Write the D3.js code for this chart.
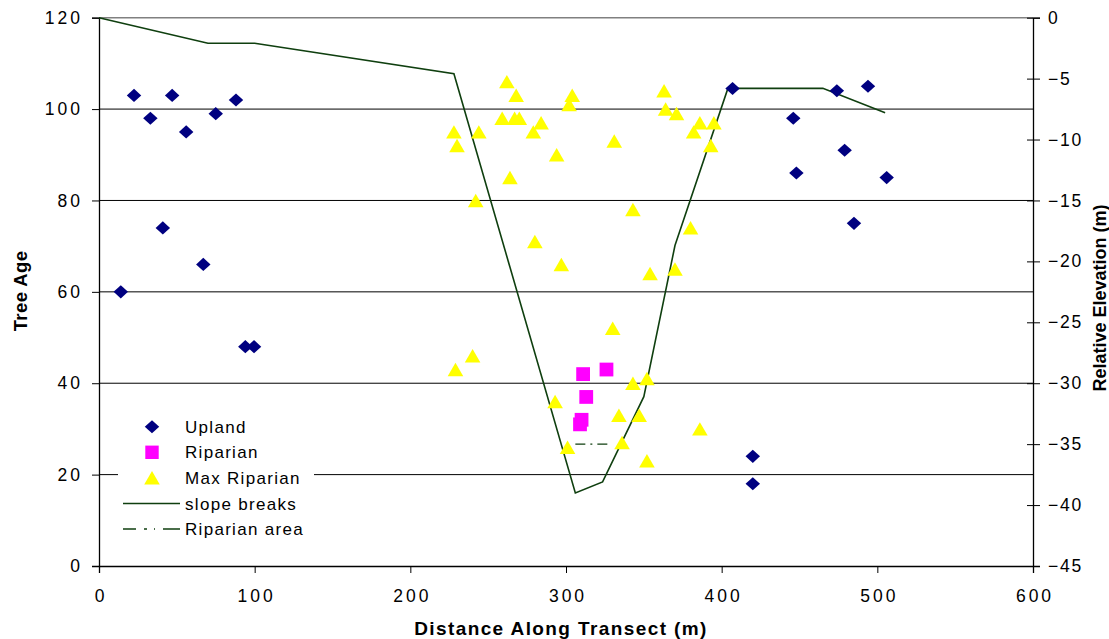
<!DOCTYPE html>
<html>
<head>
<meta charset="utf-8">
<script src="https://cdn.jsdelivr.net/npm/d3@7"></script>
<style>
  body { margin: 0; background: #fff; }
  text { font-family: "Liberation Sans", Arial, sans-serif; fill: #000; }
</style>
</head>
<body>
<div id="chart"></div>
<script>
// tree age by distance along transect
const uplandDist = [14, 22.5, 33, 41, 47, 56, 67, 75, 88, 94, 99.6, 407, 474, 494, 446, 479, 448, 506, 485, 420, 420];
const uplandAge  = [60, 103, 98, 74, 103, 95, 66, 99, 102, 48, 48, 104.5, 104, 105, 98, 91, 86, 85, 75, 24, 18];

const riparianDist = [311, 326, 313, 310, 309];
const riparianAge  = [42, 43, 37, 32, 31];

const maxRipDist = [262, 268, 304, 302, 363, 364, 371, 259, 267, 270, 284, 279, 228, 244, 230, 294, 331,
                    386, 395, 382, 393, 264, 242, 343, 380, 280, 297, 354, 370,
                    330, 240, 229, 343, 352, 293, 334, 347, 386, 301, 336, 352];
const maxRipAge  = [106, 103, 103, 101, 104, 100, 99, 98, 98, 98, 97, 95, 95, 95, 92, 90, 93,
                    97, 97, 95, 92, 85, 80, 78, 74, 71, 66, 64, 65,
                    52, 46, 43, 40, 41, 36, 33, 33, 30, 26, 27, 23];

// relative elevation (right axis)
const slopeDist = [0, 70, 100, 228, 306, 323.5, 350, 370, 404, 465, 505];
const slopeElev = [0, -2.1, -2.1, -4.6, -39, -38.1, -31.1, -18.7, -5.8, -5.8, -7.8];

const ripAreaDist = [306, 328];
const ripAreaElev = [-35, -35];

const xTicks = [0, 100, 200, 300, 400, 500, 600];
const ageTicks = [0, 20, 40, 60, 80, 100, 120];
const elevTicks = [0, -5, -10, -15, -20, -25, -30, -35, -40, -45];

const width = 1109, height = 639;
const plotLeft = 99, plotRight = 1033, plotTop = 17.7, plotBottom = 566;
const lineColor = "#0f3f0f";

const svg = d3.select("#chart").append("svg")
    .attr("width", width).attr("height", height);

const x = d3.scaleLinear().domain([0, 600]).range([plotLeft, plotRight]);
const yAge = d3.scaleLinear().domain([0, 120]).range([plotBottom, plotTop]);
const yElev = d3.scaleLinear().domain([-45, 0]).range([plotBottom, plotTop]);

// gridlines
svg.append("g").selectAll("line")
    .data(ageTicks.filter(d => d > 0))
    .enter().append("line")
    .attr("x1", plotLeft).attr("x2", plotRight)
    .attr("y1", d => yAge(d)).attr("y2", d => yAge(d))
    .attr("stroke", d => d === 120 ? "#808080" : "#000")
    .attr("stroke-width", d => d === 120 ? 1.5 : 1);

// axes
const xAxis = d3.axisBottom(x).tickValues(xTicks).tickSize(7).tickPadding(14);
const gx = svg.append("g").attr("transform", `translate(0,${plotBottom})`).call(xAxis);

const yAxisL = d3.axisLeft(yAge).tickValues(ageTicks).tickSize(7).tickPadding(12);
const gyl = svg.append("g").attr("transform", `translate(${plotLeft},0)`).call(yAxisL);

const yAxisR = d3.axisRight(yElev).tickValues(elevTicks).tickSize(7).tickPadding(8);
const gyr = svg.append("g").attr("transform", `translate(${plotRight},0)`).call(yAxisR);

[gx, gyl, gyr].forEach(g => {
  g.select(".domain").attr("stroke", "#000").attr("stroke-width", 1.3);
  g.selectAll(".tick line").attr("stroke", "#000");
  g.selectAll(".tick text")
    .style("font-family", '"Liberation Sans", Arial, sans-serif')
    .style("font-size", "17.5px")
    .style("letter-spacing", "3px")
    .attr("fill", "#000");
});
gx.selectAll(".tick text").attr("dy", "0.88em").attr("dx", "1.5px");
gyl.selectAll(".tick text").attr("dx", "3px");
// right axis ticks cross the axis
gyr.selectAll(".tick line").attr("x1", -6);
gyr.selectAll(".tick text").attr("x", 15).style("letter-spacing", "1.8px");

// slope breaks line
const slopeLine = d3.line().x(d => x(d[0])).y(d => yElev(d[1]));
svg.append("path")
    .datum(d3.zip(slopeDist, slopeElev))
    .attr("d", slopeLine)
    .attr("fill", "none").attr("stroke", lineColor).attr("stroke-width", 1.6);

svg.append("path")
    .datum(d3.zip(ripAreaDist, ripAreaElev))
    .attr("d", slopeLine)
    .attr("fill", "none").attr("stroke", lineColor).attr("stroke-width", 1.4)
    .attr("stroke-dasharray", "10,5,2,5");

// markers
const diamond = d3.symbol().type(d3.symbolDiamond2).size(110);
const square = d3.symbol().type(d3.symbolSquare).size(190);
const triangle = d3.symbol().type(d3.symbolTriangle).size(105);
const triShift = 2.2; // move centroid so the box centre sits on the value

svg.append("g").selectAll("path")
    .data(d3.zip(maxRipDist, maxRipAge))
    .enter().append("path")
    .attr("d", triangle)
    .attr("transform", d => `translate(${x(d[0])},${yAge(d[1]) + triShift})`)
    .attr("fill", "#ffff00");

svg.append("g").selectAll("path")
    .data(d3.zip(riparianDist, riparianAge))
    .enter().append("path")
    .attr("d", square)
    .attr("transform", d => `translate(${x(d[0])},${yAge(d[1])})`)
    .attr("fill", "#ff00ff");

svg.append("g").selectAll("path")
    .data(d3.zip(uplandDist, uplandAge))
    .enter().append("path")
    .attr("d", diamond)
    .attr("transform", d => `translate(${x(d[0])},${yAge(d[1])}) scale(1.1,1)`)
    .attr("fill", "#000080");

// axis titles
svg.append("text")
    .attr("x", 561).attr("y", 635)
    .attr("text-anchor", "middle")
    .style("font-size", "19px").style("font-weight", "bold").style("letter-spacing", "1.4px")
    .text("Distance Along Transect (m)");

svg.append("text")
    .attr("transform", `translate(27,291) rotate(-90)`)
    .attr("text-anchor", "middle")
    .style("font-size", "18.5px").style("font-weight", "bold").style("letter-spacing", "0.4px")
    .text("Tree Age");

svg.append("text")
    .attr("transform", `translate(1106,298) rotate(-90)`)
    .attr("text-anchor", "middle")
    .style("font-size", "18px").style("font-weight", "bold")
    .text("Relative Elevation (m)");

// legend
const legendItems = [
  { name: "Upland", kind: "diamond" },
  { name: "Riparian", kind: "square" },
  { name: "Max Riparian", kind: "triangle" },
  { name: "slope breaks", kind: "line" },
  { name: "Riparian area", kind: "dash" }
];
const legend = svg.append("g").attr("transform", "translate(118,400)");
legend.append("rect")
    .attr("width", 196).attr("height", 145).attr("fill", "#fff");

legendItems.forEach((item, i) => {
  const cy = 26.7 + i * 25.6;
  const g = legend.append("g").attr("transform", `translate(0,${cy})`);
  if (item.kind === "diamond") {
    g.append("path").attr("d", diamond).attr("transform", "translate(34,0) scale(1.1,1)").attr("fill", "#000080");
  } else if (item.kind === "square") {
    g.append("path").attr("d", d3.symbol().type(d3.symbolSquare).size(180)).attr("transform", "translate(34,0)").attr("fill", "#ff00ff");
  } else if (item.kind === "triangle") {
    g.append("path").attr("d", triangle).attr("transform", `translate(34,${triShift})`).attr("fill", "#ffff00");
  } else {
    g.append("line").attr("x1", 5).attr("x2", 62).attr("y1", 0).attr("y2", 0)
      .attr("stroke", lineColor).attr("stroke-width", 1.5)
      .attr("stroke-dasharray", item.kind === "dash" ? "13,8,3,7,1,8,17" : null);
  }
  g.append("text").attr("x", 67).attr("y", 6)
    .style("font-size", "17px").style("letter-spacing", "1.3px")
    .text(item.name);
});
</script>
</body>
</html>
